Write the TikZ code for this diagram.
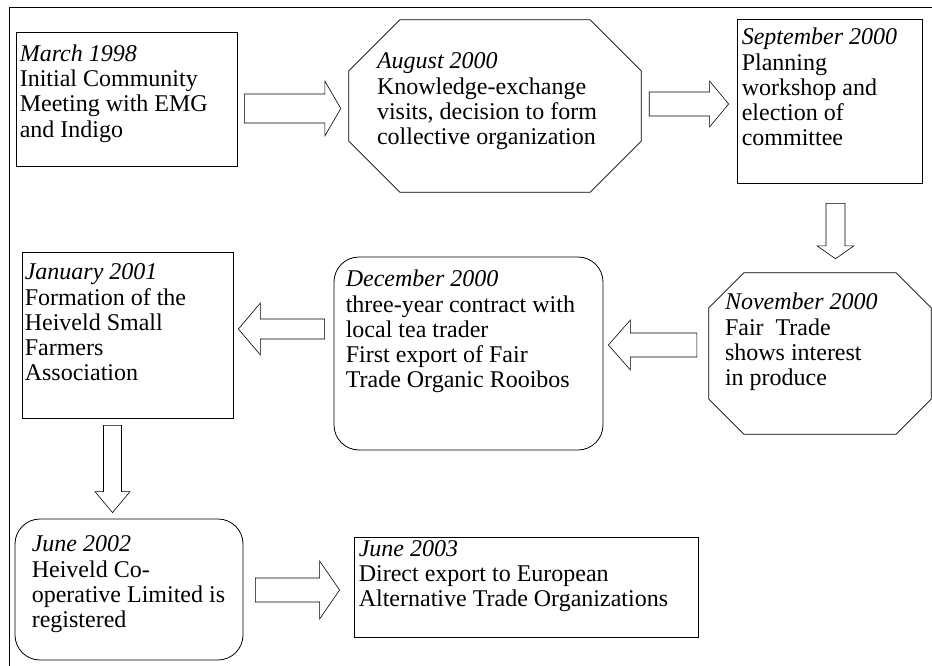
\documentclass[tikz,border=0pt]{standalone}
\usepackage{fontspec}
\setmainfont{Liberation Serif}
\usetikzlibrary{calc}
\tikzset{
  bashaft/.store in=\bashaft, bawing/.store in=\bawing, bahead/.store in=\bahead,
  bagapa/.store in=\bagapa, bagapb/.store in=\bagapb,
  fat/.style={draw=black,line width=0.6pt,to path={
      let \p1=($(\tikztostart)!\bagapa!(\tikztotarget)$),
          \p2=($(\tikztotarget)!\bagapb!(\tikztostart)$),
          \p3=($(\p2)!\bahead!(\p1)$) in
      ($(\p1)!\bashaft!90:(\p2)$) -- ($(\p3)!\bashaft!90:(\p2)$) -- ($(\p3)!\bawing!90:(\p2)$)
      -- (\p2) -- ($(\p3)!\bawing!-90:(\p2)$) -- ($(\p3)!\bashaft!-90:(\p2)$)
      -- ($(\p1)!\bashaft!-90:(\p2)$) -- cycle}}
}
% octagon outline round a (plain) rectangle node
\newcommand{\octframe}[2]{%
  \draw[line width=0.8pt] ([xshift=#2]#1.north west) -- ([xshift=-#2]#1.north east)
    -- ([yshift=-#2]#1.north east) -- ([yshift=#2]#1.south east)
    -- ([xshift=-#2]#1.south east) -- ([xshift=#2]#1.south west)
    -- ([yshift=#2]#1.south west) -- ([yshift=-#2]#1.north west) -- cycle;}

\begin{document}
\begin{tikzpicture}[x=1pt,y=1pt]
  \tikzstyle{box}=[rectangle,draw=black,line width=0.8pt]
  \tikzstyle{rbox}=[box,rounded corners=25pt]
  \tikzstyle{octo}=[rectangle,draw=none]
  \tikzstyle{txt}=[anchor=north west,align=left,inner sep=0pt,font=\fontsize{24}{25.3}\selectfont]

  \useasboundingbox (0,0) rectangle (932,-666);
  \draw[line width=0.8pt] (9.5,-666) -- (9.5,-7.5) -- (932,-7.5);

  \node[box,minimum width=221pt,minimum height=134pt] (0) at (126.5,-99) {};
  \node[octo,minimum width=292pt,minimum height=172pt] (1) at (495,-106) {};
  \node[box,minimum width=185pt,minimum height=164pt] (2) at (829.5,-101) {};
  \node[octo,minimum width=222pt,minimum height=161pt] (3) at (820,-353.5) {};
  \node[rbox,minimum width=269pt,minimum height=193pt] (4) at (468.5,-353.5) {};
  \node[box,minimum width=211pt,minimum height=166pt] (5) at (127.5,-335) {};
  \node[rbox,minimum width=228pt,minimum height=141pt] (6) at (129,-589.5) {};
  \node[box,minimum width=344pt,minimum height=100pt] (7) at (526,-587) {};
  \octframe{1}{51pt}
  \octframe{3}{35pt}

  \node[txt] (t0) at ([shift={(4,-11.7)}]0.north west) {\strut\textit{March 1998}\\Initial Community\\Meeting with EMG\\and Indigo};
  \node[txt] (t1) at ([shift={(28,-31.2)}]1.north west) {\strut\textit{August 2000}\\Knowledge-exchange\\visits, decision to form\\collective organization};
  \node[txt] (t2) at ([shift={(5,-8.2)}]2.north west) {\strut\textit{September 2000}\\Planning\\workshop and\\election of\\committee};
  \node[txt] (t3) at ([shift={(16,-19)}]3.north west) {\strut\textit{November 2000}\\Fair~ Trade\\shows interest\\in produce};
  \node[txt] (t4) at ([shift={(12,-12.2)}]4.north west) {\strut\textit{December 2000}\\three-year contract with\\local tea trader\\First export of Fair\\Trade Organic Rooibos};
  \node[txt] (t5) at ([shift={(3,-10.2)}]5.north west) {\strut\textit{January 2001}\\Formation of the\\Heiveld Small\\Farmers\\Association};
  \node[txt] (t6) at ([shift={(17,-15.2)}]6.north west) {\strut\textit{June 2002}\\Heiveld Co-\\operative Limited is\\registered};
  \node[txt] (t7) at ([shift={(5,-1.5)}]7.north west) {\strut\textit{June 2003}\\Direct export to European\\Alternative Trade Organizations};

  \path ([yshift=-9.5]0.east) edge[fat,bagapa=7pt,bagapb=8pt,bashaft=14.5pt,bawing=27.5pt,bahead=16pt] ([yshift=-2.5]1.west)
        ([yshift=2]1.east) edge[fat,bagapa=8pt,bagapb=8pt,bashaft=12pt,bawing=23pt,bahead=19pt] ([yshift=-3]2.west)
        ([xshift=6]2.south) edge[fat,bagapa=20pt,bagapb=14pt,bashaft=9.5pt,bawing=18.5pt,bahead=13pt] ([xshift=15.5]3.north)
        ([yshift=8.5]3.west) edge[fat,bagapa=12pt,bagapb=5pt,bashaft=12pt,bawing=25pt,bahead=22pt] ([yshift=8.5]4.east)
        ([yshift=24.5]4.west) edge[fat,bagapa=9pt,bagapb=5pt,bashaft=10pt,bawing=26pt,bahead=22pt] ([yshift=6]5.east)
        ([xshift=-15]5.south) edge[fat,bagapa=7pt,bagapb=6pt,bashaft=9pt,bawing=17.5pt,bahead=21pt] ([xshift=-16.5]6.north)
        ([yshift=-0.5]6.east) edge[fat,bagapa=12pt,bagapb=14pt,bashaft=12pt,bawing=29pt,bahead=20pt] ([yshift=-3]7.west);
\end{tikzpicture}
\end{document}
